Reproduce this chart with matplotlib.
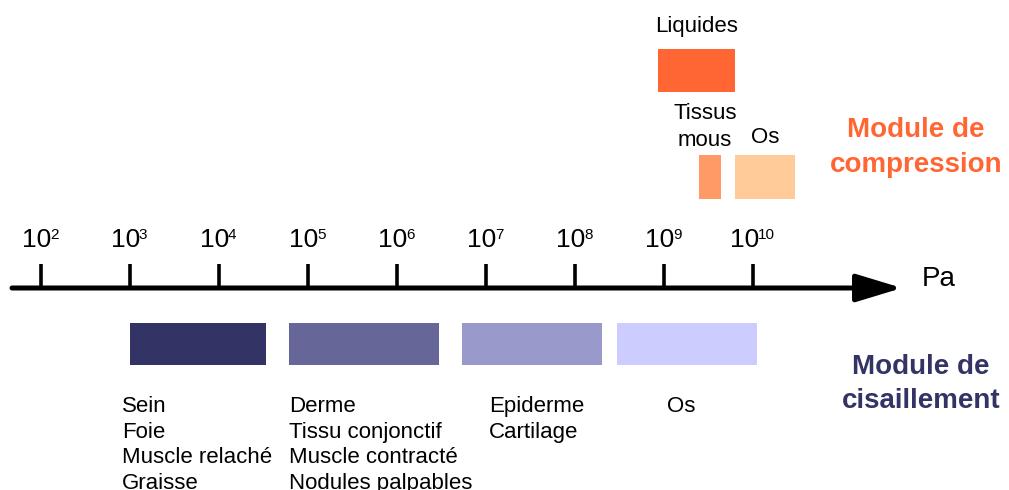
import numpy as np
import matplotlib.pyplot as plt
from matplotlib.patches import ArrowStyle

plt.rcParams['font.family'] = ['Liberation Sans', 'DejaVu Sans']

# decades marked on the Pa axis
exponents = np.arange(2, 11)

# module de compression, ranges in Pa
comp_names = ['Liquides', 'Tissus\nmous', 'Os']
comp_low = [8.6e8, 2.5e9, 6.3e9]
comp_high = [6.3e9, 4.4e9, 3.0e10]
comp_colors = ['#FF6633', '#FF9966', '#FFCC99']

# module de cisaillement, ranges in Pa
shear_low = [1.0e3, 6.1e4, 5.4e6, 3.0e8]
shear_high = [3.4e4, 3.0e6, 2.0e8, 1.1e10]
shear_colors = ['#333366', '#666699', '#9999CC', '#CCCCFF']
shear_tissues = [
    ['Sein', 'Foie', 'Muscle relaché', 'Graisse'],
    ['Derme', 'Tissu conjonctif', 'Muscle contracté', 'Nodules palpables'],
    ['Epiderme', 'Cartilage'],
    ['Os'],
]

W, H = 1009, 490
fig = plt.figure(figsize=(W / 100, H / 100), dpi=100)
ax = fig.add_axes([0, 0, 1, 1])
ax.set_xscale('log')
# 10^2 sits at x=41 px, one decade = 89 px
ax.set_xlim(10 ** (2 - 41 / 89), 10 ** (2 + (W - 41) / 89))
ax.set_ylim(H, 0)
ax.axis('off')
tr = ax.get_yaxis_transform()  # x in figure fraction, y in pixels

# axis with arrow
y_axis = 288
ax.annotate('', xy=(902 / W, y_axis), xytext=(12 / W, y_axis),
            xycoords=tr, textcoords=tr,
            arrowprops=dict(arrowstyle=ArrowStyle('-|>', head_length=28, head_width=8.5),
                            mutation_scale=1, lw=3.6, color='black',
                            shrinkA=0, shrinkB=0))
ticks = 10.0 ** exponents
ax.vlines(ticks, 264, y_axis, color='black', lw=2.6)

# "10" plus a small raised exponent, centred on the tick
fs_base, fs_sup = 19, 11
base_w = 1.112 * fs_base * 100 / 72
for e, t in zip(exponents, ticks):
    sup_w = 0.556 * len(str(e)) * fs_sup * 100 / 72
    dx = (base_w - sup_w) / 2
    ax.annotate('10', xy=(t, 247), xytext=(dx, 0), textcoords='offset pixels',
                ha='right', va='baseline', fontsize=fs_base)
    ax.annotate(str(e), xy=(t, 247), xytext=(dx - 1.5, 8), textcoords='offset pixels',
                ha='left', va='baseline', fontsize=fs_sup)
ax.text(922 / W, 286, 'Pa', transform=tr, ha='left', va='baseline', fontsize=20)

# compression bars
comp_y = [70.5, 177, 177]
ax.barh(comp_y, np.array(comp_high) - np.array(comp_low), left=comp_low,
        height=43, color=comp_colors)
label_x = [None, 705, None]
label_base = [32, 119, 143]
for i, name in enumerate(comp_names):
    for j, line in enumerate(name.split('\n')):
        if label_x[i] is None:
            xx = np.sqrt(comp_low[i] * comp_high[i])
            ax.text(xx, label_base[i] + 27 * j, line, ha='center', va='baseline', fontsize=16)
        else:
            ax.text(label_x[i] / W, label_base[i] + 27 * j, line, transform=tr,
                    ha='center', va='baseline', fontsize=16)

ax.text(916 / W, 137, 'Module de', transform=tr, ha='center', va='baseline',
        fontsize=20, fontweight='bold', color='#FF6633')
ax.text(916 / W, 172, 'compression', transform=tr, ha='center', va='baseline',
        fontsize=20, fontweight='bold', color='#FF6633')

# shear bars
ax.barh(344, np.array(shear_high) - np.array(shear_low), left=shear_low,
        height=42, color=shear_colors)
text_left = [122, 289, 489, 667]
for x0, names in zip(text_left, shear_tissues):
    for j, name in enumerate(names):
        ax.text(x0 / W, 412 + 25.5 * j, name, transform=tr, ha='left',
                va='baseline', fontsize=16)

ax.text(921 / W, 374, 'Module de', transform=tr, ha='center', va='baseline',
        fontsize=20, fontweight='bold', color='#333366')
ax.text(921 / W, 408, 'cisaillement', transform=tr, ha='center', va='baseline',
        fontsize=20, fontweight='bold', color='#333366')

fig.savefig('out.png', dpi=100)
